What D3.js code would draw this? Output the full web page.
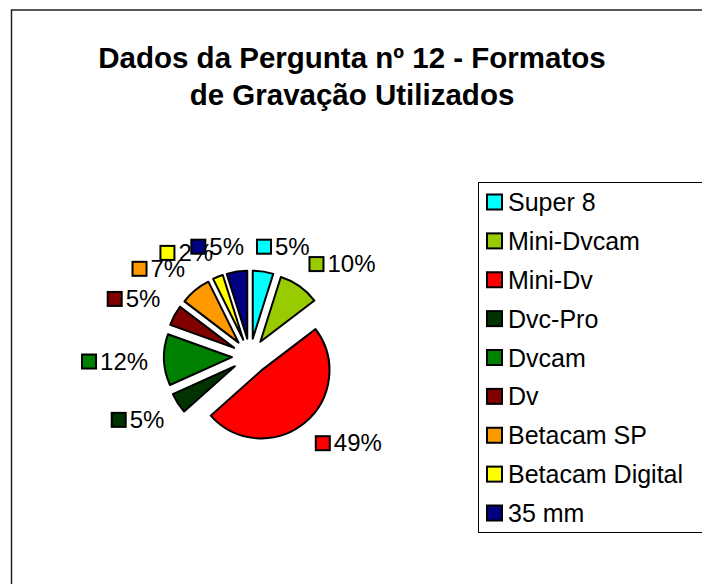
<!DOCTYPE html>
<html>
<head>
<meta charset="utf-8">
<script src="https://cdn.jsdelivr.net/npm/d3@7"></script>
<style>
  body { margin: 0; background: #fff; }
  text { font-family: "Liberation Sans", Arial, sans-serif; }
</style>
</head>
<body>
<svg id="chart" width="702" height="584"></svg>
<script>
// chart data (counts of answers, 41 in total)
let categories = ['Super 8', 'Mini-Dvcam', 'Mini-Dv', 'Dvc-Pro', 'Dvcam', 'Dv', 'Betacam SP', 'Betacam Digital', '35 mm'];
let counts = [2, 4, 20, 2, 5, 2, 3, 1, 2];
let colors = ['#00FFFF', '#99CC00', '#FF0000', '#003300', '#008000', '#800000', '#FF9900', '#FFFF00', '#000080'];
let titleLines = ['Dados da Pergunta nº 12 - Formatos', 'de Gravação Utilizados'];

let svg = d3.select('#chart');

// outer chart border (cut off at right/bottom like the reference)
svg.append('rect')
    .attr('x', 11.5).attr('y', 10)
    .attr('width', 720).attr('height', 600)
    .attr('fill', '#fff')
    .attr('stroke', '#222')
    .attr('stroke-width', 1.5);

// title
svg.append('g').selectAll('text')
    .data(titleLines)
    .join('text')
    .attr('x', 352)
    .attr('y', (d, i) => 68 + i * 37)
    .attr('text-anchor', 'middle')
    .attr('font-size', 29.5)
    .attr('font-weight', 'bold')
    .text(d => d);

let color = d3.scaleOrdinal().domain(categories).range(colors);
let total = d3.sum(counts);
let data = categories.map((c, i) => ({ name: c, value: counts[i] }));

// pie setup
let cx = 250, cy = 356.5, radius = 68, explode = 18, labelR = 102;
let pie = d3.pie().sort(null).value(d => d.value);
let arc = d3.arc().innerRadius(0).outerRadius(radius);
let arcs = pie(data);
let mid = d => (d.startAngle + d.endAngle) / 2;

let pieG = svg.append('g').attr('transform', `translate(${cx},${cy})`);
pieG.selectAll('path')
    .data(arcs)
    .join('path')
    .attr('transform', d => `translate(${explode * Math.sin(mid(d))},${-explode * Math.cos(mid(d))})`)
    .attr('d', arc)
    .attr('fill', d => color(d.data.name))
    .attr('stroke', '#000')
    .attr('stroke-width', 2)
    .attr('stroke-linejoin', 'round');

// data labels: small key + percentage
// right-side labels start at the anchor point, left-side ones end there
let fmt = v => Math.round(v / total * 100) + '%';
let labelG = pieG.append('g');
arcs.forEach(d => {
    let a = mid(d);
    let g = labelG.append('g');
    g.append('rect')
        .attr('x', 1).attr('y', 1)
        .attr('width', 14).attr('height', 14)
        .attr('fill', color(d.data.name))
        .attr('stroke', '#000')
        .attr('stroke-width', 2);
    let t = g.append('text')
        .attr('x', 19).attr('y', 16)
        .attr('font-size', 24)
        .text(fmt(d.value));
    let w = 19 + t.node().getComputedTextLength();
    let h = 17;
    let px = labelR * Math.sin(a), py = -labelR * Math.cos(a);
    let fx = -0.5 + 0.5 * Math.tanh(5 * Math.sin(a));
    let fy = -0.5 - 0.5 * Math.tanh(5 * Math.cos(a));
    g.attr('transform', `translate(${px + fx * w},${py + fy * h})`);
});

// legend
let legX = 478, legY = 182, legW = 240, legH = 350;
svg.append('rect')
    .attr('x', legX + 0.5).attr('y', legY + 0.5)
    .attr('width', legW).attr('height', legH)
    .attr('fill', '#fff')
    .attr('stroke', '#000')
    .attr('stroke-width', 1);

let rowY = d3.scalePoint().domain(categories).range([202, 513]);
let leg = svg.append('g').selectAll('g')
    .data(categories)
    .join('g')
    .attr('transform', d => `translate(${legX},${rowY(d)})`);
leg.append('rect')
    .attr('x', 9).attr('y', -7.5)
    .attr('width', 15).attr('height', 15)
    .attr('fill', d => color(d))
    .attr('stroke', '#000')
    .attr('stroke-width', 2);
leg.append('text')
    .attr('x', 30).attr('y', 9)
    .attr('font-size', 25)
    .text(d => d);
</script>
</body>
</html>
